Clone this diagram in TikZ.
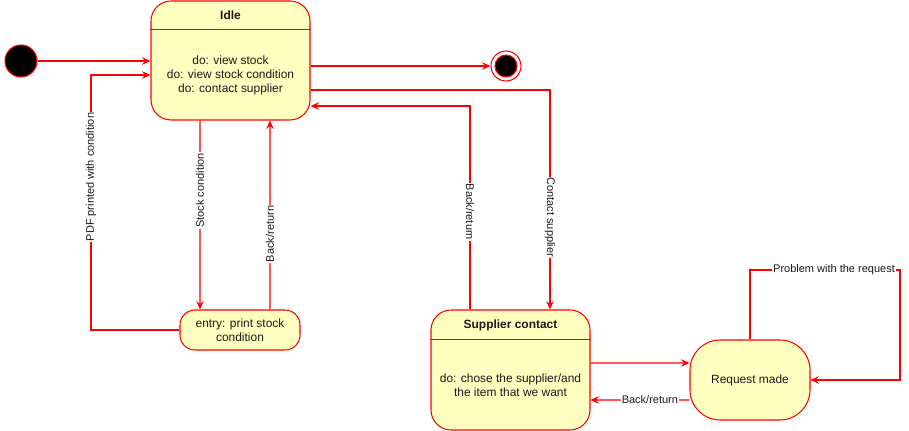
\documentclass[tikz,border=0pt]{standalone}
\usepackage{fontspec}
\setmainfont{Liberation Sans}
\usetikzlibrary{arrows.meta}
\definecolor{statefill}{HTML}{FFFFC0}
\definecolor{linered}{HTML}{FF0000}
\definecolor{textgrey}{HTML}{1A1A1A}

\begin{document}
\begin{tikzpicture}[
    x=0.02cm, y=-0.02cm,
    line/.style={draw=linered, line width=0.6pt},
    state/.style={line, fill=statefill, rounded corners=0.4cm, inner sep=0pt},
    dot/.style={circle, line, inner sep=0pt},
    title/.style={font=\fontsize{6.8}{8}\selectfont\bfseries, text=textgrey},
    body/.style={font=\fontsize{6.8}{8}\selectfont, align=center, text=textgrey},
    lbl/.style={font=\fontsize{6.26}{7.5}\selectfont, fill=white, inner sep=0.5pt, text=textgrey},
    >={Stealth[length=1.7mm, width=1.5mm, inset=0.6mm]}
]
    \useasboundingbox (0,0) rectangle (909,431);

    % start and end
    \node[dot, fill=black, minimum size=0.64cm] (init) at (21,61) {};
    \node[dot, fill=white, minimum size=0.6cm] (final) at (506,66) {};
    \node[dot, fill=black, minimum size=0.44cm] (final-in) at (final) {};

    % states
    \node[state, minimum width=3.18cm, minimum height=2.38cm] (idle) at (230.5,60.5) {};
    \draw[line] ([yshift=-0.58cm]idle.north west) -- ([yshift=-0.58cm]idle.north east);
    \node[title] (idle-title) at ([yshift=-0.29cm]idle.north) {Idle};
    \node[body] (idle-body) at (230.5,75) {do: view stock\\do: view stock condition\\do: contact supplier};

    \node[state, rounded corners=0.3cm, minimum width=2.4cm, minimum height=0.8cm, body] (print) at (240,330) {entry: print stock\\condition};

    \node[state, minimum width=3.18cm, minimum height=2.4cm] (supplier) at (510.5,370) {};
    \draw[line] ([yshift=-0.6cm]supplier.north west) -- ([yshift=-0.6cm]supplier.north east);
    \node[title] (supplier-title) at ([yshift=-0.32cm]supplier.north) {Supplier contact};
    \node[body] (supplier-body) at (510.5,385) {do: chose the supplier/and\\the item that we want};

    \node[state, rounded corners=0.6cm, minimum width=2.4cm, minimum height=1.6cm, body] (request) at (750,380) {Request made};

    % transitions
    \draw[line, ->] (init.east) -- (idle.west |- init);
    \draw[line, ->] (idle.east |- final.west) -- (final.west);

    \coordinate (pdf-bend) at (91,75);
    \draw[line, ->] (print.west) -| node[lbl, rotate=90, pos=0.8] {PDF printed with condition} (pdf-bend) -- (idle.west |- pdf-bend);

    \draw[line, ->] ([xshift=-0.61cm]idle.south) -- node[lbl, rotate=90, pos=0.37] {Stock condition} ([xshift=-0.8cm]print.north);
    \draw[line, ->] ([xshift=0.6cm]print.north) -- node[lbl, rotate=90, pos=0.4] {Back/return} ([xshift=0.79cm]idle.south);

    \draw[line, ->] ([yshift=-0.59cm]idle.east) -| node[lbl, rotate=-90, pos=0.79] {Contact supplier} ([xshift=0.79cm]supplier.north);
    \draw[line, ->] ([xshift=-0.81cm]supplier.north) |- node[lbl, rotate=-90, pos=0.24] {Back/return} ([yshift=-0.91cm]idle.east);

    \draw[line, ->] ([yshift=0.14cm]supplier.east) -- ([yshift=0.34cm]request.west);
    \draw[line, ->] ([yshift=-0.4cm]request.west) -- node[lbl, pos=0.4] {Back/return} ([yshift=-0.6cm]supplier.east);

    \coordinate (loop-top) at (900,270);
    \draw[line, ->] (request.north) |- node[lbl, pos=0.78] {Problem with the request} (loop-top) |- (request.east);

\end{tikzpicture}
\end{document}
